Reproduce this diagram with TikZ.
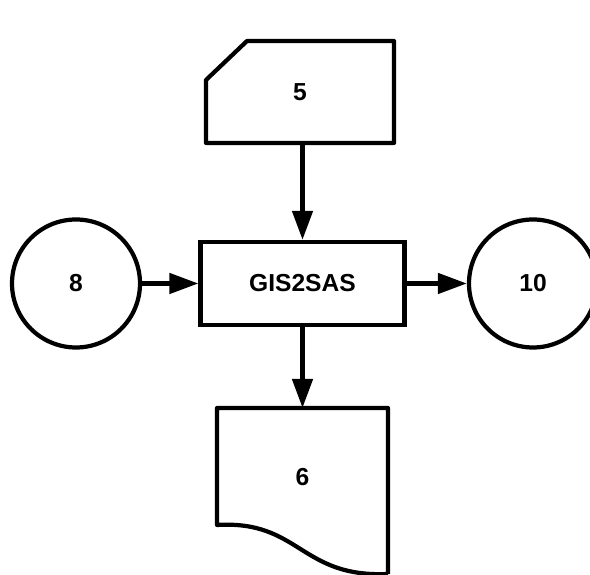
\documentclass[tikz,border=0pt]{standalone}
\usepackage{fontspec}
\setmainfont{Liberation Sans}
\usepackage{tikz}
\usetikzlibrary{arrows.meta, positioning, calc}

\tikzset{
    lbl/.style={font=\bfseries\fontsize{14}{16}\selectfont},
    procbox/.style={draw, line width=2.4pt, rectangle, minimum width=4.08cm, minimum height=1.66cm, lbl},
    conn/.style={draw, line width=2.4pt, circle, minimum size=2.56cm, lbl},
    outline/.style={rectangle, outer sep=0pt, inner sep=0pt, lbl},
    flow/.style={line width=2.6pt, -{Triangle[length=0.58cm,width=0.4cm]}}
}

\begin{document}
\begin{tikzpicture}
    \useasboundingbox (0,0) rectangle (11.8,11.5);

    % Nodes
    \node[procbox] (proc) at (6.05,5.83) {GIS2SAS};
    \node[conn] (src) at (1.52,5.83) {8};
    \node[conn] (dst) at (10.66,5.83) {10};
    \node[outline, minimum width=3.76cm, minimum height=2.04cm] (card) at (6.00,9.66) {5};
    \node[outline, minimum width=3.42cm, minimum height=2.76cm] (doc) at (6.05,1.96) {6};

    % Card shape
    \draw[line width=2.4pt, line join=round] (card.north east) -- (card.south east) -- (card.south west)
        -- ([yshift=-0.78cm]card.north west) -- ([xshift=0.82cm]card.north west) -- cycle;

    % Document shape
    \draw[line width=2.4pt, line join=round] ([yshift=-0.56cm]doc.south east) -- (doc.north east)
        -- (doc.north west) -- ([yshift=0.42cm]doc.south west)
        .. controls +(1.66,0.1) and +(-1.76,-0.08) .. ([yshift=-0.56cm]doc.south east);

    % Flow
    \draw[flow] (card.south -| proc.north) -- (proc.north);
    \draw[flow] (src.east) -- (proc.west);
    \draw[flow] (proc.east) -- (dst.west);
    \draw[flow] (proc.south) -- (doc.north);
\end{tikzpicture}
\end{document}
